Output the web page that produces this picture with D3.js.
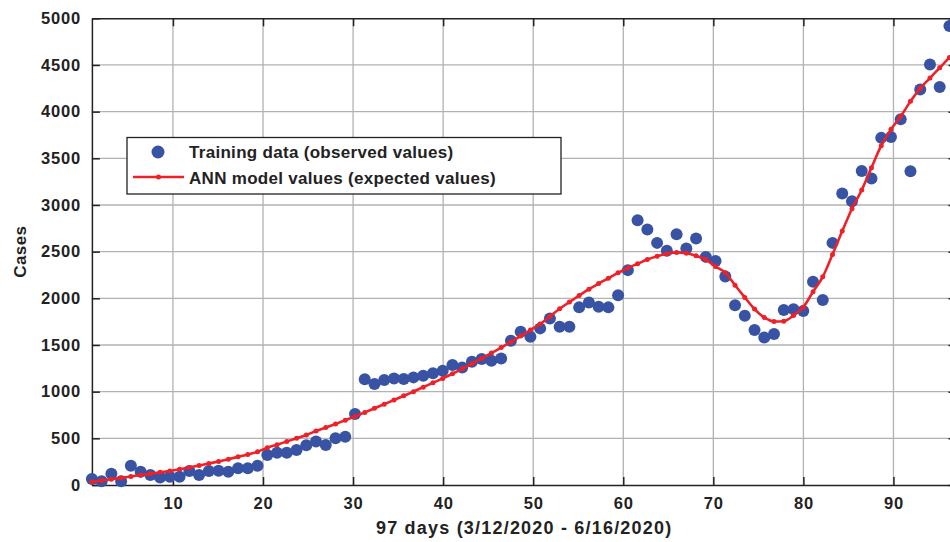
<!DOCTYPE html>
<html>
<head>
<meta charset="utf-8">
<script src="https://cdn.jsdelivr.net/npm/d3@7/dist/d3.min.js"></script>
<style>
  html, body { margin: 0; padding: 0; background: #fff; }
  svg { display: block; }
  .tick text { font-family: "Liberation Sans", Arial, Helvetica, sans-serif; font-weight: bold; }
</style>
</head>
<body>
<svg id="chart" width="950" height="542"></svg>
<script>
// Daily cases, observed (training) samples
const observed = [
  65, 40, 120, 40, 205, 143, 107, 80, 89, 89,
  150, 107, 150, 153, 143, 179, 179, 205, 321, 346,
  346, 375, 425, 467, 428, 500, 517, 760, 1132, 1081,
  1124, 1142, 1135, 1153, 1170, 1196, 1224, 1285, 1260, 1320,
  1349, 1331, 1356, 1545, 1641, 1588, 1678, 1785, 1695, 1695,
  1903, 1955, 1909, 1903, 2034, 2302, 2837, 2738, 2594, 2509,
  2687, 2534, 2641, 2444, 2400, 2234, 1927, 1813, 1660, 1581,
  1617, 1874, 1884, 1863, 2177, 1981, 2594, 3123, 3041, 3365,
  3284, 3719, 3729, 3919, 3362, 4237, 4504, 4265, 4918
];

// ANN model output at the same sample positions
const model = [
  35, 48, 62, 76, 91, 106, 121, 136, 150, 168,
  188, 208, 230, 252, 276, 302, 328, 356, 400, 432,
  466, 500, 536, 578, 616, 654, 694, 735, 778, 822,
  866, 910, 955, 1000, 1048, 1095, 1142, 1192, 1245, 1300,
  1356, 1413, 1472, 1533, 1596, 1660, 1725, 1805, 1888, 1960,
  2030, 2098, 2158, 2215, 2273, 2325, 2370, 2415, 2450, 2477,
  2492, 2482, 2455, 2415, 2340, 2275, 2140, 2010, 1885, 1795,
  1752, 1755, 1815, 1905, 2070, 2230, 2470, 2720, 2960, 3160,
  3400, 3635, 3810, 3950, 4110, 4250, 4360, 4470, 4580, 4680
];

// Sample spacing along the day axis
const firstDay = 1;
const sampleStepDays = 1.082;

const xTicks = [10, 20, 30, 40, 50, 60, 70, 80, 90];
const yTicks = [0, 500, 1000, 1500, 2000, 2500, 3000, 3500, 4000, 4500, 5000];
const xDomain = [1, 97];
const yDomain = [0, 5000];

const xTitle = "97 days (3/12/2020 - 6/16/2020)";
const yTitle = "Cases";
const legendLabels = ["Training data (observed values)", "ANN model values (expected values)"];

(function draw() {
  const dayOf = i => firstDay + i * sampleStepDays;

  // ---- layout ----
  const pl = 91.9, pr = 956.5, pt = 18.3, pb = 485;
  const blue = "#3953a4", red = "#ee2028", ink = "#222222", gridColor = "#b2b2b2";
  const font = '"Liberation Sans", Arial, Helvetica, sans-serif';

  const svg = d3.select("#chart");
  const x = d3.scaleLinear().domain(xDomain).range([pl, pr]);
  const y = d3.scaleLinear().domain(yDomain).range([pb, pt]);

  // grid
  const grid = svg.append("g").attr("stroke", gridColor).attr("stroke-width", 1.3);
  grid.selectAll("line.gx").data(xTicks).join("line")
    .attr("class", "gx")
    .attr("x1", d => x(d)).attr("x2", d => x(d))
    .attr("y1", pt).attr("y2", pb);
  grid.selectAll("line.gy").data(yTicks.filter(v => v > yDomain[0] && v < yDomain[1])).join("line")
    .attr("class", "gy")
    .attr("x1", pl).attr("x2", pr)
    .attr("y1", d => y(d)).attr("y2", d => y(d));

  // axes (inward ticks, boxed)
  function styleAxis(g) {
    g.select(".domain").attr("stroke", ink).attr("stroke-width", 1.5);
    g.selectAll(".tick line").attr("stroke", ink).attr("stroke-width", 1.5);
    g.selectAll(".tick text").attr("fill", ink).attr("font-size", 16.5).attr("letter-spacing", "0.8px");
  }

  svg.append("g").attr("transform", `translate(0,${pb})`)
    .call(d3.axisBottom(x).tickValues(xTicks).tickSizeInner(-8).tickSizeOuter(0).tickPadding(12).tickFormat(d3.format("d")))
    .call(styleAxis);
  svg.append("g").attr("transform", `translate(0,${pt})`)
    .call(d3.axisTop(x).tickValues(xTicks).tickSizeInner(-8).tickSizeOuter(0).tickFormat(""))
    .call(styleAxis);
  svg.append("g").attr("transform", `translate(${pl},0)`)
    .call(d3.axisLeft(y).tickValues(yTicks).tickSizeInner(-8).tickSizeOuter(0).tickPadding(11).tickFormat(d3.format("d")))
    .call(styleAxis);
  svg.append("g").attr("transform", `translate(${pr},0)`)
    .call(d3.axisRight(y).tickValues(yTicks).tickSizeInner(-8).tickSizeOuter(0).tickFormat(""))
    .call(styleAxis);

  const marks = svg.append("g");

  // observed points
  marks.append("g").selectAll("circle").data(observed).join("circle")
    .attr("cx", (d, i) => x(dayOf(i)))
    .attr("cy", d => y(d))
    .attr("r", 6)
    .attr("fill", blue);

  // model line with small dot markers
  const line = d3.line().x((d, i) => x(dayOf(i))).y(d => y(d)).curve(d3.curveMonotoneX);
  marks.append("path").datum(model)
    .attr("d", line)
    .attr("fill", "none")
    .attr("stroke", red)
    .attr("stroke-width", 2.6)
    .attr("stroke-linejoin", "round");
  marks.append("g").selectAll("circle").data(model).join("circle")
    .attr("cx", (d, i) => x(dayOf(i)))
    .attr("cy", d => y(d))
    .attr("r", 2.5)
    .attr("fill", red);

  // axis titles
  svg.append("text")
    .attr("x", (pl + pr) / 2).attr("y", 533.5)
    .attr("text-anchor", "middle")
    .attr("font-family", font).attr("font-weight", "bold").attr("font-size", 18)
    .attr("letter-spacing", "1.2px")
    .attr("fill", ink)
    .text(xTitle);

  svg.append("text")
    .attr("transform", `translate(26,${(pt + pb) / 2}) rotate(-90)`)
    .attr("text-anchor", "middle")
    .attr("font-family", font).attr("font-weight", "bold").attr("font-size", 17)
    .attr("letter-spacing", "0.4px")
    .attr("fill", ink)
    .text(yTitle);

  // legend
  const legend = svg.append("g");
  legend.append("rect")
    .attr("x", 127).attr("y", 137.5).attr("width", 434).attr("height", 56.5)
    .attr("fill", "#fff").attr("stroke", ink).attr("stroke-width", 1.3);
  legend.append("circle").attr("cx", 158).attr("cy", 152).attr("r", 6.5).attr("fill", blue);
  legend.append("line").attr("x1", 133).attr("x2", 184).attr("y1", 177).attr("y2", 177)
    .attr("stroke", red).attr("stroke-width", 2.6);
  legend.append("circle").attr("cx", 158.5).attr("cy", 177).attr("r", 2.5).attr("fill", red);
  legend.selectAll("text").data(legendLabels).join("text")
    .attr("x", 189).attr("y", (d, i) => 158 + i * 25.5)
    .attr("font-family", font).attr("font-weight", "bold").attr("font-size", 17)
    .attr("letter-spacing", "0.3px")
    .attr("fill", ink)
    .text(d => d);
})();
</script>
</body>
</html>
